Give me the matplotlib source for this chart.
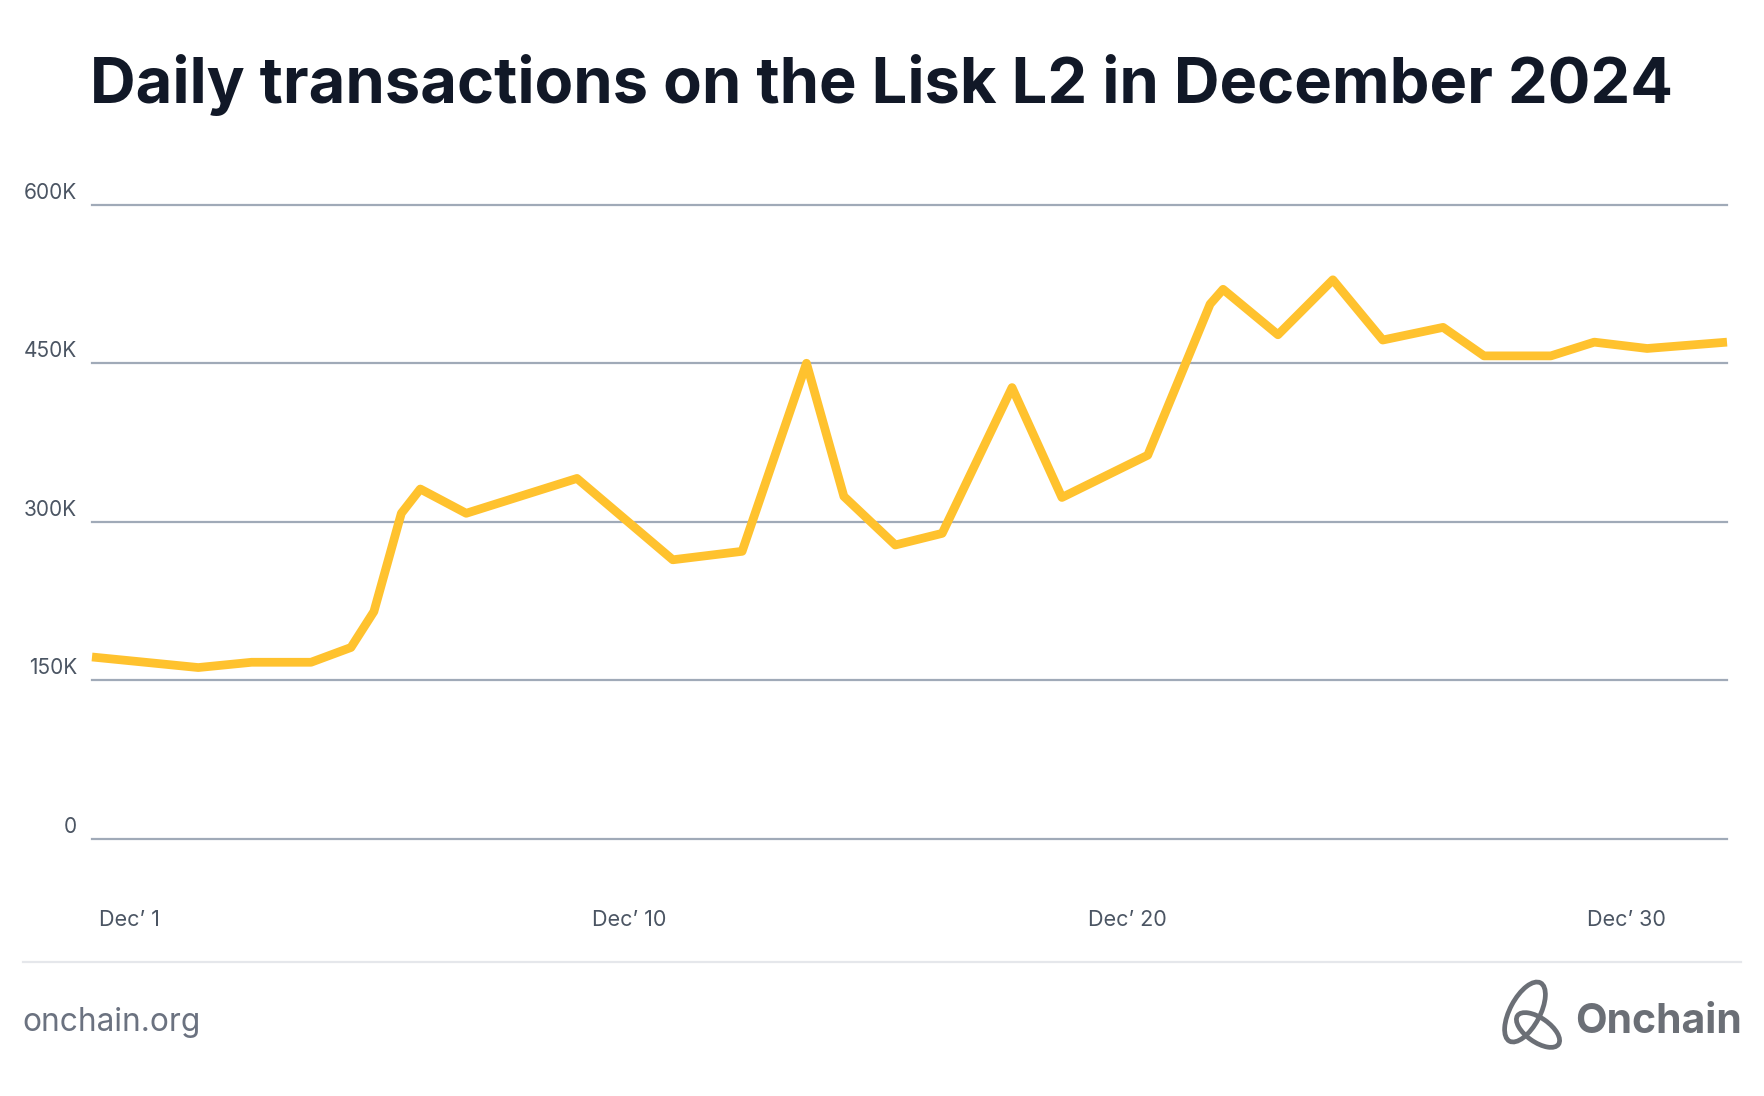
import matplotlib
matplotlib.use("Agg")
import matplotlib.pyplot as plt
from matplotlib.patches import Ellipse
import matplotlib.transforms as mtransforms
from matplotlib.transforms import blended_transform_factory, ScaledTranslation

# ---------------- data ----------------
day_offset = [-0.76, 1.37, 2.44, 3.63, 4.43, 4.89, 5.44, 5.82, 6.74, 8.96,
              10.88, 12.27, 13.56, 14.31, 15.34, 16.28, 17.68, 18.68, 20.40, 21.65,
              21.91, 23.01, 24.11, 25.11, 26.32, 27.14, 28.48, 29.35, 30.41, 32.01]
transactions_k = [172, 162, 167, 167, 181, 215, 308, 331, 308, 341,
                  264, 272, 450, 324, 278, 289, 427, 323, 363, 506,
                  520, 477, 529, 472, 484, 457, 457, 470, 464, 470]
x_tick_pos = [0, 10, 20, 30]
x_tick_labels = ["Dec\u2019 1", "Dec\u2019 10", "Dec\u2019 20", "Dec\u2019 30"]
y_tick_vals = [0, 150, 300, 450, 600]
y_tick_labels = ["0", "150K", "300K", "450K", "600K"]
title = "Daily transactions on the Lisk L2 in December 2024"

# ---------------- figure ----------------
W, H = 1764, 1096
DPI = 100
fig = plt.figure(figsize=(W / DPI, H / DPI), dpi=DPI)
fig.patch.set_facecolor("white")

def fx(px):
    return px / W

def fy(py):
    return 1 - py / H

ax_left, ax_right, ax_top, ax_bottom = 92, 1727, 204.8, 838.7
ax = fig.add_axes([fx(ax_left), fy(ax_bottom), fx(ax_right - ax_left), (ax_bottom - ax_top) / H])
ax.set_xlim(day_offset[0], day_offset[-1])
ax.set_ylim(0, 600)
for s in ax.spines.values():
    s.set_visible(False)
ax.set_xticks([])
ax.set_yticks([])
ax.patch.set_alpha(0)

grid_color = "#a0aab8"
label_color = "#4b5563"
for v in y_tick_vals:
    ax.axhline(v, color=grid_color, lw=1.6, clip_on=False, zorder=1)

ax.plot(day_offset, transactions_k, color="#FFC22E", lw=6.3,
        solid_joinstyle="round", solid_capstyle="butt", zorder=3, clip_on=False)

# y labels
ytrans = blended_transform_factory(fig.transFigure, ax.transData) + \
    ScaledTranslation(0, 6 / DPI, fig.dpi_scale_trans)
for v, lab in zip(y_tick_vals, y_tick_labels):
    fig.text(fx(77), v, lab, transform=ytrans, ha="right", va="baseline",
             fontsize=15, color=label_color, family="Inter")

# x labels
xtrans = blended_transform_factory(ax.transData, fig.transFigure)
for p, lab in zip(x_tick_pos, x_tick_labels):
    ax.text(p, fy(926.5), lab, transform=xtrans, ha="center", va="baseline",
            fontsize=15.5, color=label_color, family="Inter", clip_on=False)

# title
fig.text(0.5, fy(103), title, ha="center", va="baseline",
         fontsize=45.5, fontweight="bold", color="#111827", family="Inter")

# footer separator
fig.add_artist(plt.Line2D([fx(22.5), fx(1741)], [fy(962), fy(962)],
                          color="#e5e7eb", lw=1.6))

# footer texts
fig.text(fx(22.5), fy(1030.7), "onchain.org", ha="left", va="baseline",
         fontsize=22.8, color="#6b7280", family="Inter")
fig.text(fx(1742), fy(1033), "Onchain", ha="right", va="baseline",
         fontsize=29.5, fontweight="bold", color="#6b6f76", family="Inter")

# logo mark (approximation)
logo_color = "#6b6f76"
def add_ellipse(cx, cy, w, h, ang):
    e = Ellipse((cx, H - cy), width=w, height=h, angle=ang, fill=False,
                ec=logo_color, lw=3.4,
                transform=mtransforms.Affine2D().scale(1 / W, 1 / H) + fig.transFigure)
    fig.add_artist(e)
add_ellipse(1525, 1012, 66, 30, 62)
add_ellipse(1538, 1030, 50, 24, -35)

fig.savefig("out.png", dpi=DPI, facecolor="white")
